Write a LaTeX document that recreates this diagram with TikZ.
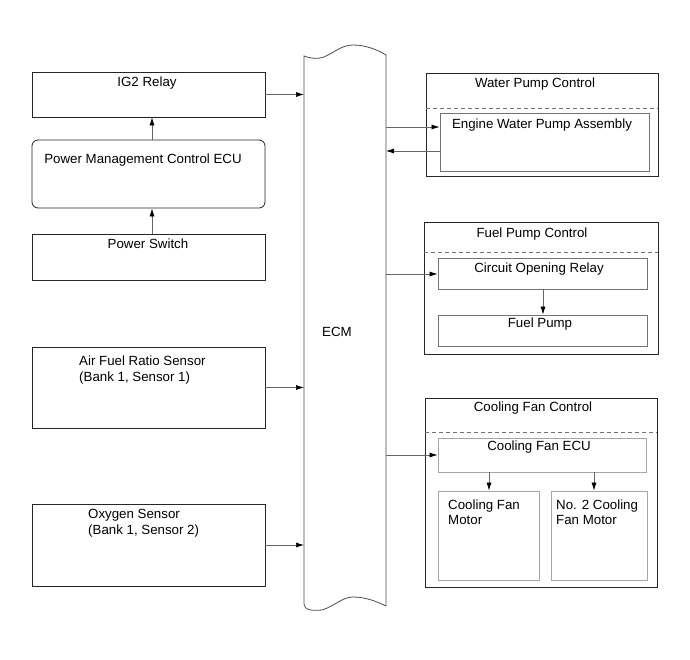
\documentclass[tikz,border=0pt]{standalone}
\usepackage{fontspec}
\setmainfont{Liberation Sans}
\usetikzlibrary{arrows.meta}
\begin{document}
\begin{tikzpicture}[x=1pt,y=-1pt,
  box/.style={draw=black!85, line width=0.8pt, inner sep=0pt, rectangle},
  ibox/.style={draw=black!55, line width=0.8pt, inner sep=0pt, rectangle},
  txt/.style={inner sep=0pt, font=\fontsize{13.3}{15.5}\selectfont},
  ltxt/.style={txt, align=left, anchor=west},
  arr/.style={draw=black!60, line width=0.7pt, -{Latex[length=8pt,width=5pt,black]}},
  dline/.style={draw=black!55, line width=0.8pt, dash pattern=on 4pt off 3pt}
]
\useasboundingbox (0,0) rectangle (690,660);

% ECM
\draw[black!70, line width=0.8pt] (304,56) .. controls (312,59) and (318,59) .. (324,57)
  .. controls (335,52) and (342,45) .. (353,45) .. controls (366,45) and (378,50) .. (386,55)
  -- (386,606) .. controls (378,602) and (366,597) .. (353,597)
  .. controls (342,597) and (335,606) .. (322,610) .. controls (312,611) and (304,610) .. (304,604) -- cycle;
\node[txt] (ecm) at (337,332) {ECM};
\coordinate (eL) at (304,300);
\coordinate (eR) at (386,300);

% left boxes
\node[box, minimum width=233pt, minimum height=45pt] (ig2) at (148.5,94.5) {};
\node[txt] (ig2t) at (147,83) {IG2 Relay};
\node[box, rounded corners=6pt, minimum width=233pt, minimum height=68pt] (pmc) at (148.5,174) {};
\node[txt] (pmct) at (143,160) {Power Management Control ECU};
\node[box, minimum width=233pt, minimum height=46pt] (ps) at (148.5,257) {};
\node[txt] (pst) at (148,244) {Power Switch};
\node[box, minimum width=233pt, minimum height=81pt] (afr) at (148.5,387.5) {};
\node[ltxt] (afrt) at (79,370) {Air Fuel Ratio Sensor\\(Bank 1, Sensor 1)};
\node[box, minimum width=233pt, minimum height=82pt] (o2) at (148.5,545) {};
\node[ltxt] (o2t) at (88,523) {Oxygen Sensor\\(Bank 1, Sensor 2)};

\draw[arr] (ps.north -| 152,0) -- (pmc.south -| 152,0);
\draw[arr] (pmc.north -| 152,0) -- (ig2.south -| 152,0);
\draw[arr] (ig2.east) -- (ig2.east -| eL);
\draw[arr] (afr.east) -- (afr.east -| eL);
\draw[arr] (o2.east) -- (o2.east -| eL);

% Water pump control
\node[box, minimum width=232pt, minimum height=103pt] (wpc) at (542,124.5) {};
\node[txt] (wpct) at (535,84) {Water Pump Control};
\draw[dline] (426,108) -- (658,108);
\node[ibox, minimum width=209pt, minimum height=58pt] (ewpa) at (544.5,142) {};
\node[txt] (ewpat) at (542,125) {Engine Water Pump Assembly};
\coordinate (w1) at (386,127);
\coordinate (w2) at (386,151);
\draw[arr] (w1) -- (w1 -| ewpa.west);
\draw[arr] (w2 -| ewpa.west) -- (w2);

% Fuel pump control
\node[box, minimum width=234pt, minimum height=132pt] (fpc) at (541,288) {};
\node[txt] (fpct) at (532,234) {Fuel Pump Control};
\draw[dline] (424,252) -- (658,252);
\node[ibox, minimum width=209pt, minimum height=31pt] (cor) at (542.5,273.5) {};
\node[txt] (cort) at (539,269) {Circuit Opening Relay};
\node[ibox, minimum width=209pt, minimum height=31pt] (fp) at (542.5,330.5) {};
\node[txt] (fpt) at (540,324) {Fuel Pump};
\draw[arr] (cor.south -| 543,0) -- (fp.north -| 543,0);
\coordinate (f1) at (386,274);
\draw[arr] (f1) -- (f1 -| cor.west);

% Cooling fan control
\node[box, minimum width=232pt, minimum height=189pt] (cfc) at (541,492.5) {};
\node[txt] (cfct) at (533,408) {Cooling Fan Control};
\draw[dline] (425,432) -- (657,432);
\node[ibox, draw=black!35, minimum width=208pt, minimum height=34pt] (cfe) at (542,455) {};
\node[txt] (cfet) at (539,447) {Cooling Fan ECU};
\node[ibox, draw=black!35, minimum width=101pt, minimum height=89pt] (cfm) at (488.5,535.5) {};
\node[ltxt] (cfmt) at (448,512) {Cooling Fan\\Motor};
\node[ibox, draw=black!35, minimum width=96pt, minimum height=89pt] (cfm2) at (599,535.5) {};
\node[ltxt] (cfm2t) at (556,512) {No. 2 Cooling\\Fan Motor};
\draw[arr] (cfe.south -| 489,0) -- (cfm.north -| 489,0);
\draw[arr] (cfe.south -| 594,0) -- (cfm2.north -| 594,0);
\coordinate (c1) at (386,455);
\draw[arr] (c1) -- (c1 -| cfe.west);
\end{tikzpicture}
\end{document}
